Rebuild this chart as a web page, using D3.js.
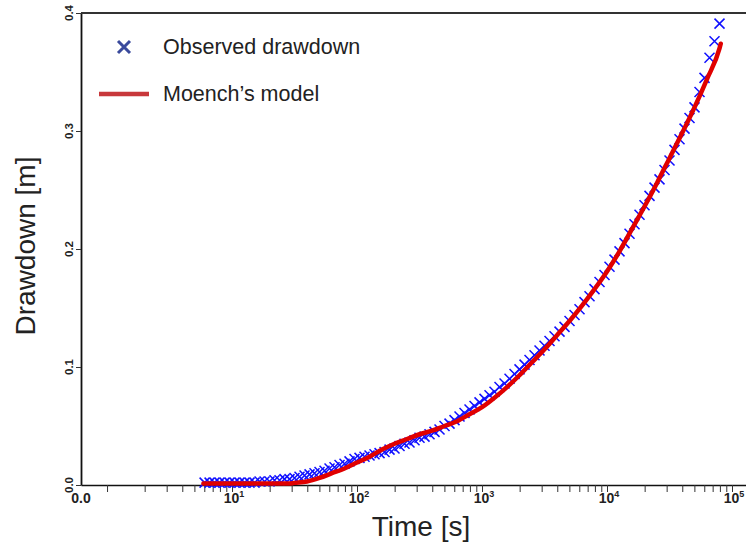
<!DOCTYPE html>
<html>
<head>
<meta charset="utf-8">
<style>
    body { margin: 0; background: #fff; }
    svg text { font-family: "Liberation Sans", Arial, sans-serif; }
</style>
</head>
<body>
<svg width="746" height="546" id="chart"></svg>
<script src="https://d3js.org/d3.v7.min.js"></script>
<script>
    // observed drawdown (time in s, drawdown in m)
    var obsTime = [6.03, 6.61, 7.24, 7.94, 8.71, 9.55, 10.47, 11.48, 12.59, 13.8,
        15.14, 16.6, 18.2, 19.95, 21.88, 23.99, 26.3, 28.84, 31.62, 34.67,
        38.02, 41.69, 45.71, 50.12, 54.95, 60.26, 66.07, 72.44, 79.43, 87.1,
        95.5, 104.7, 114.8, 125.9, 138, 151.4, 166, 182, 199.5, 218.8,
        239.9, 263, 288.4, 316.2, 346.7, 380.2, 416.9, 457.1, 501.2, 549.5,
        602.6, 660.7, 724.4, 794.3, 871, 955, 1047, 1148, 1259, 1380,
        1514, 1660, 1820, 1995, 2188, 2399, 2630, 2884, 3162, 3467,
        3802, 4169, 4571, 5012, 5495, 6026, 6607, 7244, 7943, 8710,
        9550, 10470, 11480, 12590, 13800, 15140, 16600, 18200, 19950, 21880,
        23990, 26300, 28840, 31620, 34670, 38020, 41690, 45710, 50120, 54950,
        60260, 66070, 72440, 79430];
    var obsDrawdown = [0.002, 0.002, 0.002, 0.002, 0.002, 0.002, 0.002, 0.002, 0.002, 0.002,
        0.002, 0.003, 0.003, 0.003, 0.004, 0.004, 0.005, 0.005, 0.006, 0.007,
        0.008, 0.009, 0.010, 0.011, 0.012, 0.014, 0.015, 0.017, 0.018, 0.020,
        0.022, 0.023, 0.024, 0.025, 0.026, 0.027, 0.028, 0.030, 0.031, 0.033,
        0.035, 0.036, 0.038, 0.040, 0.041, 0.043, 0.045, 0.047, 0.050, 0.052,
        0.055, 0.058, 0.061, 0.064, 0.067, 0.070, 0.073, 0.076, 0.079, 0.083,
        0.086, 0.090, 0.094, 0.098, 0.102, 0.106, 0.110, 0.114, 0.118, 0.122,
        0.126, 0.130, 0.134, 0.139, 0.144, 0.149, 0.155, 0.160, 0.166, 0.172,
        0.178, 0.185, 0.191, 0.198, 0.205, 0.213, 0.221, 0.229, 0.237, 0.245,
        0.252, 0.259, 0.267, 0.275, 0.284, 0.293, 0.302, 0.311, 0.320, 0.333,
        0.345, 0.362, 0.376, 0.391];

    // Moench's model curve
    var modelTime = [5.9, 10, 20, 28.2, 31.6, 39.8, 50.1, 63.1, 79.4, 100,
        125.9, 158.5, 199.5, 251.2, 316.2, 398.1, 501.2, 631, 794.3, 1000,
        1259, 1585, 1995, 2512, 3162, 3981, 5012, 6310, 7943, 10000,
        12590, 15850, 19950, 25120, 31620, 39810, 50120, 63100, 79430, 81280];
    var modelDrawdown = [0.0012, 0.0012, 0.0012, 0.0012, 0.0018, 0.003, 0.006, 0.010, 0.014, 0.019,
        0.024, 0.030, 0.035, 0.039, 0.043, 0.046, 0.050, 0.054, 0.060, 0.066,
        0.074, 0.083, 0.093, 0.104, 0.115, 0.127, 0.139, 0.152, 0.166, 0.181,
        0.198, 0.217, 0.236, 0.256, 0.277, 0.298, 0.320, 0.344, 0.370, 0.374];

    var yTicks = [0, 0.1, 0.2, 0.3, 0.4];
    var xDecades = [1, 10, 100, 1000, 10000, 100000];
    var xLabelExp = [1, 2, 3, 4, 5];

    var svg = d3.select("#chart"),
        plotLeft = 81, plotTop = 13, plotRight = 746, plotBottom = 485;

    var x = d3.scaleLog().domain([0.619, 129400]).range([plotLeft, plotRight]),
        y = d3.scaleLinear().domain([0, 0.4]).range([plotBottom, plotTop]);

    // minor + major ticks on the log axis
    var xTickVals = [];
    xDecades.forEach(function (d) {
        for (var m = 1; m <= 9; m++) {
            if (d * m <= x.domain()[1]) xTickVals.push(d * m);
        }
    });

    var gx = svg.append("g")
        .attr("transform", "translate(0," + plotBottom + ")")
        .call(d3.axisBottom(x).tickValues(xTickVals).tickFormat("").tickSize(7).tickSizeOuter(0));
    gx.select(".domain").attr("stroke", "#111").attr("stroke-width", 1.6);
    gx.selectAll(".tick line").attr("stroke", "#333").attr("stroke-width", 1);

    xLabelExp.forEach(function (e) {
        var t = svg.append("text")
            .attr("x", x(Math.pow(10, e)) + 2)
            .attr("y", 503)
            .attr("text-anchor", "middle")
            .style("font-size", "14px")
            .style("font-weight", "bold")
            .attr("fill", "#222");
        t.append("tspan").text("10");
        t.append("tspan").attr("dy", -6).style("font-size", "9px").text(e);
    });
    svg.append("text")
        .attr("x", plotLeft).attr("y", 503)
        .attr("text-anchor", "middle")
        .style("font-size", "14px")
        .style("font-weight", "bold")
        .attr("fill", "#222")
        .text("0.0");

    var gy = svg.append("g")
        .attr("transform", "translate(" + plotLeft + ",0)")
        .call(d3.axisLeft(y).tickValues(yTicks).tickFormat("").tickSize(5).tickSizeOuter(0));
    gy.select(".domain").attr("stroke", "#111").attr("stroke-width", 1.8);
    gy.selectAll(".tick line").attr("stroke", "#333");

    yTicks.forEach(function (v) {
        svg.append("text")
            .attr("transform", "translate(73," + y(v) + ") rotate(-90)")
            .attr("text-anchor", "middle")
            .style("font-size", "11.5px")
            .style("font-weight", "bold")
            .attr("fill", "#222")
            .text(v.toFixed(1));
    });

    // top frame
    svg.append("line")
        .attr("x1", plotLeft).attr("x2", plotRight)
        .attr("y1", plotTop).attr("y2", plotTop)
        .attr("stroke", "#333").attr("stroke-width", 2);

    // observed crosses
    var cross = "M-5,-5L5,5M-5,5L5,-5";
    svg.append("g").selectAll("path")
        .data(obsTime)
        .enter().append("path")
        .attr("d", cross)
        .attr("transform", function (d, i) { return "translate(" + x(d) + "," + y(obsDrawdown[i]) + ")"; })
        .attr("fill", "none")
        .attr("stroke", "#1010ff")
        .attr("stroke-width", 1.5);

    // model line
    var line = d3.line()
        .x(function (d, i) { return x(modelTime[i]); })
        .y(function (d, i) { return y(modelDrawdown[i]); })
        .curve(d3.curveMonotoneX);
    svg.append("path")
        .attr("d", line(modelTime))
        .attr("fill", "none")
        .attr("stroke", "#e00000")
        .attr("stroke-width", 4.5)
        .attr("stroke-linecap", "round");

    // legend
    svg.append("path")
        .attr("d", "M-6,-6L6,6M-6,6L6,-6")
        .attr("transform", "translate(124,47)")
        .attr("stroke", "#3a4a9c").attr("stroke-width", 3).attr("fill", "none");
    svg.append("line")
        .attr("x1", 99).attr("x2", 149).attr("y1", 94).attr("y2", 94)
        .attr("stroke", "#c8383b").attr("stroke-width", 4.5);
    svg.append("text").attr("x", 163).attr("y", 54)
        .style("font-size", "21.5px").attr("fill", "#222")
        .text("Observed drawdown");
    svg.append("text").attr("x", 163).attr("y", 101)
        .style("font-size", "21.5px").attr("fill", "#222")
        .text("Moench\u2019s model");

    // axis titles
    svg.append("text")
        .attr("x", 421).attr("y", 536)
        .attr("text-anchor", "middle")
        .style("font-size", "28px").attr("fill", "#222")
        .text("Time [s]");
    svg.append("text")
        .attr("transform", "translate(35,246) rotate(-90)")
        .attr("text-anchor", "middle")
        .style("font-size", "28px").attr("fill", "#222")
        .text("Drawdown [m]");
</script>
</body>
</html>
